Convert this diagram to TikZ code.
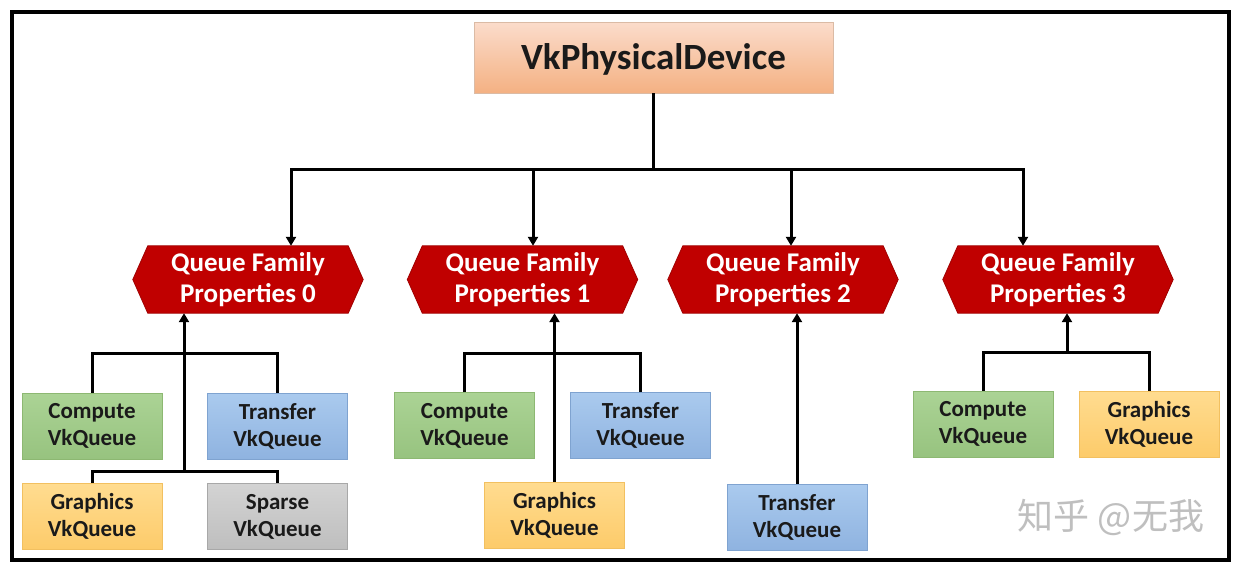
\documentclass[tikz,border=0pt]{standalone}
\usepackage{fontspec}
\setmainfont{Carlito}
\newfontfamily\cjk{Noto Sans CJK SC}
\usetikzlibrary{arrows.meta,backgrounds}
\definecolor{hexred}{HTML}{C00000}
\definecolor{hexedge}{HTML}{A00000}
\definecolor{topA}{HTML}{FBDCCB}
\definecolor{topB}{HTML}{F4B183}
\definecolor{grA}{HTML}{ABD395}
\definecolor{grB}{HTML}{97C37F}
\definecolor{grE}{HTML}{8DB872}
\definecolor{blA}{HTML}{AACAEE}
\definecolor{blB}{HTML}{8FB3E0}
\definecolor{blE}{HTML}{7FA3D0}
\definecolor{yeA}{HTML}{FFDC90}
\definecolor{yeB}{HTML}{FDCB6A}
\definecolor{yeE}{HTML}{F2C060}
\definecolor{gyA}{HTML}{D3D3D3}
\definecolor{gyB}{HTML}{BEBEBE}
\definecolor{gyE}{HTML}{A8A8A8}
\definecolor{txt}{HTML}{1A1A1A}
\tikzset{
  conn/.style={line width=3pt, black},
  arr/.style={conn, -{Triangle[length=9pt,width=10pt]}},
  topbox/.style={draw=topB!80!black!60, line width=0.6pt, top color=topA, bottom color=topB,
    minimum width=359pt, minimum height=71pt, inner sep=0pt, text height=31pt, text depth=8pt,
    font=\fontsize{37}{44}\selectfont\bfseries, text=txt},
  hexnode/.style={minimum width=200pt, minimum height=67pt, inner sep=0pt, align=center,
    font=\fontsize{27}{31}\selectfont\bfseries, text=white},
  hexfill/.style={fill=hexred, draw=hexedge, line width=0.8pt},
  qbox/.style={minimum width=140pt, minimum height=66pt, inner sep=0pt, align=center,
    line width=0.8pt, font=\fontsize{23}{27}\selectfont\bfseries, text=txt},
  green/.style={qbox, draw=grE, top color=grA, bottom color=grB},
  blue/.style={qbox, draw=blE, top color=blA, bottom color=blB},
  yellow/.style={qbox, draw=yeE, top color=yeA, bottom color=yeB},
  grey/.style={qbox, draw=gyE, top color=gyA, bottom color=gyB},
}
\newcommand{\hexbg}[1]{\path[hexfill] ([xshift=-15pt]#1.west) -- (#1.north west) -- (#1.north east) -- ([xshift=15pt]#1.east) -- (#1.south east) -- (#1.south west) -- cycle;}
\begin{document}
\begin{tikzpicture}[x=1pt,y=-1pt]
\useasboundingbox (0,0) rectangle (1240,568);
\begin{scope}[on background layer]
\fill[white] (0,0) rectangle (1240,568);
\end{scope}
\draw[line width=4pt] (12,11.5) rectangle (1228.5,559.5);

% top node
\node[topbox] (top) at (653.5,57.5) {VkPhysicalDevice};

% queue family hexagons
\node[hexnode] (q0) at (248,279.5) {Queue Family\\Properties 0};
\node[hexnode] (q1) at (522.5,279.5) {Queue Family\\Properties 1};
\node[hexnode] (q2) at (783,279.5) {Queue Family\\Properties 2};
\node[hexnode] (q3) at (1058,279.5) {Queue Family\\Properties 3};
\begin{scope}[on background layer]
\hexbg{q0}\hexbg{q1}\hexbg{q2}\hexbg{q3}
\end{scope}

% queue boxes
\node[green]  (c0) at (92,426)    {Compute\\VkQueue};
\node[blue]   (t0) at (277.5,426) {Transfer\\VkQueue};
\node[yellow] (g0) at (92,516.5)  {Graphics\\VkQueue};
\node[grey]   (s0) at (277.5,516.5) {Sparse\\VkQueue};
\node[green]  (c1) at (464.5,425.5) {Compute\\VkQueue};
\node[blue]   (t1) at (640.5,425.5) {Transfer\\VkQueue};
\node[yellow] (g1) at (554.5,515)   {Graphics\\VkQueue};
\node[blue]   (t2) at (797,517)     {Transfer\\VkQueue};
\node[green]  (c3) at (983,424)     {Compute\\VkQueue};
\node[yellow] (g3) at (1149,424)    {Graphics\\VkQueue};

% top bus
\coordinate (b0) at (291,169);
\coordinate (b1) at (533,169);
\coordinate (b2) at (791,169);
\coordinate (b3) at (1023,169);
\draw[conn] (top.south) -- (top.south |- b0);
\draw[conn, line cap=rect] (b0) -- (b3);
\draw[arr] (b0) -- (b0 |- q0.north);
\draw[arr] (b1) -- (b1 |- q1.north);
\draw[arr] (b2) -- (b2 |- q2.north);
\draw[arr] (b3) -- (b3 |- q3.north);

% group 0
\coordinate (j0) at (184,353);
\coordinate (k0) at (184,471);
\draw[conn] (c0.north) |- (j0) -| (t0.north);
\draw[conn] (g0.north) |- (k0) -| (s0.north);
\draw[arr] (k0) -- (k0 |- q0.south);

% group 1
\coordinate (j1) at (554.5,353);
\draw[conn] (c1.north) |- (j1) -| (t1.north);
\draw[arr] (g1.north) -- (g1.north |- q1.south);

% group 2
\draw[arr] (t2.north) -- (t2.north |- q2.south);

% group 3
\coordinate (j3) at (1067,352);
\draw[conn] (c3.north) |- (j3) -| (g3.north);
\draw[arr] (j3) -- (j3 |- q3.south);

% watermark
\node[text=black!25, font=\fontsize{36}{40}\selectfont\cjk] (wm) at (1111,517) {知乎 @无我};
\end{tikzpicture}
\end{document}
